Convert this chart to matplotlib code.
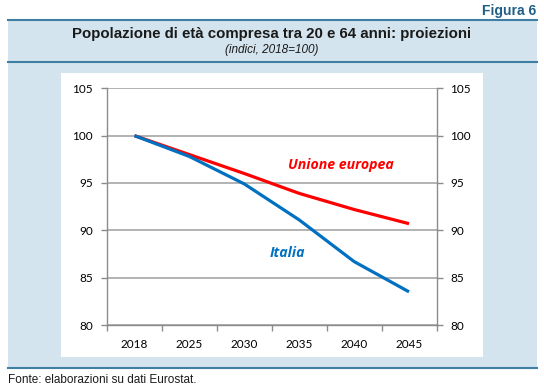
import matplotlib
matplotlib.use("Agg")
import matplotlib.pyplot as plt
from matplotlib.patches import Rectangle
from matplotlib.lines import Line2D

years = ["2018", "2025", "2030", "2035", "2040", "2045"]
italia = [100.0, 97.8, 94.9, 91.1, 86.7, 83.5]
ue = [100.0, 98.0, 96.0, 93.9, 92.2, 90.7]
yticks = [80, 85, 90, 95, 100, 105]

W, H = 544, 389
fig = plt.figure(figsize=(W / 100, H / 100), dpi=100)
fig.patch.set_facecolor("white")

def fx(px):
    return px / W

def fy(py):
    return 1 - py / H

panel = "#d3e4ee"
edge = "#3f7fa3"
fig.patches.append(Rectangle((fx(8), fy(368)), fx(537) - fx(8), fy(19.5) - fy(368),
                             transform=fig.transFigure, facecolor=panel, edgecolor="none", zorder=0))
fig.patches.append(Rectangle((fx(61), fy(357)), fx(483) - fx(61), fy(72.5) - fy(357),
                             transform=fig.transFigure, facecolor="white", edgecolor="none", zorder=1))
for yy in (19.5, 61.7, 367.7):
    fig.lines.append(Line2D([fx(8), fx(537)], [fy(yy), fy(yy)], transform=fig.transFigure,
                            color=edge, lw=1.5, zorder=2))

sans = "Liberation Sans"
fig.text(fx(536), fy(11), "Figura 6", ha="right", va="center", fontsize=10,
         fontweight="bold", color="#1f5f86", family=sans)
fig.text(fx(272), fy(34), "Popolazione di età compresa tra 20 e 64 anni: proiezioni",
         ha="center", va="center", fontsize=10.8, fontweight="bold", color="#1a1a1a", family=sans)
fig.text(fx(272), fy(50.5), "(indici, 2018=100)", ha="center", va="center", fontsize=8.5,
         style="italic", color="#1a1a1a", family=sans)
fig.text(fx(8), fy(380), "Fonte: elaborazioni su dati Eurostat.", ha="left", va="center",
         fontsize=8.5, color="#1a1a1a", family=sans)

ax = fig.add_axes([fx(107), fy(325), fx(436.5) - fx(107), fy(88.3) - fy(325)])
ax.set_facecolor("none")
ax.set_zorder(3)
x = list(range(len(years)))
ax.plot(x, ue, color="#ff0000", lw=2.3, solid_capstyle="butt", zorder=4)
ax.plot(x, italia, color="#0070c0", lw=2.3, solid_capstyle="butt", zorder=5)
ax.set_xlim(-0.5, len(years) - 0.5)
ax.set_ylim(80, 105)
ax.set_yticks(yticks)
ax.yaxis.grid(True, color="#a6a6a6", lw=1.2)
ax.set_axisbelow(True)
ax.spines["top"].set_visible(False)
for s in ("left", "right", "bottom"):
    ax.spines[s].set_color("#8c8c8c")
    ax.spines[s].set_linewidth(1.0)

tickfont = "Lato"
ax.set_xticks(x)
ax.set_xticklabels(years, fontsize=8.5, family=tickfont)
ax.set_xticks([i - 0.5 for i in range(len(years) + 1)], minor=True)
ax.tick_params(axis="x", which="major", length=0, pad=10)
ax.tick_params(axis="x", which="minor", length=4, color="#8c8c8c", width=1.0, direction="out")
ax.tick_params(axis="y", which="major", length=4, color="#8c8c8c", width=1.0, pad=6,
               labelsize=8.5, left=True, right=True, labelleft=True, labelright=True)
for lab in ax.get_yticklabels():
    lab.set_family(tickfont)

ax.text(3.75, 96.9, "Unione europea", color="#ff0000", fontsize=10.2, fontweight="bold",
        style="italic", ha="center", va="center", family="Open Sans")
ax.text(2.78, 87.6, "Italia", color="#0070c0", fontsize=10.2, fontweight="bold",
        style="italic", ha="center", va="center", family="Open Sans")

fig.savefig("out.png", dpi=100, facecolor=fig.get_facecolor())
